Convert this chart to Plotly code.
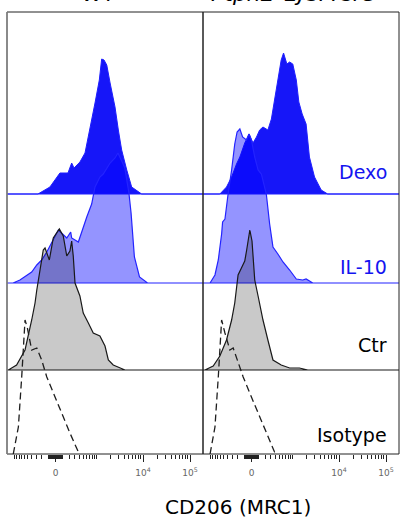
import numpy as np
import plotly.graph_objects as go

# ---------------- data (display channel 0-1000, normalized counts) ----------------
SAMPLES = ["Dexo", "IL-10", "Ctr", "Isotype"]
PANELS = ["WT", "Ptpn2-LysMCre"]

# WT panel
WT_DEXO_CH = [158, 219, 270, 311, 330, 342, 372, 398, 423, 449, 471, 483, 495, 509, 526, 551, 568, 585, 611, 636, 687]
WT_DEXO_CT = [0, 7, 21, 21, 31, 26, 32, 41, 64, 91, 114, 135, 134, 129, 111, 87, 64, 44, 24, 7, 0]

WT_IL10_CH = [31, 66, 126, 152, 177, 203, 236, 262, 305, 325, 330, 364, 407, 432, 449, 474, 491, 526, 551, 566, 590, 601, 622, 633, 650, 676, 717]
WT_IL10_CT = [0, 3, 11, 18, 23, 31, 43, 53, 45, 51, 45, 41, 66, 79, 96, 106, 109, 120, 125, 130, 120, 115, 90, 70, 26, 6, 0]

WT_CTR_CH = [7, 49, 92, 126, 143, 152, 168, 185, 194, 216, 236, 254, 267, 287, 305, 321, 330, 338, 347, 372, 389, 415, 440, 474, 500, 517, 542, 602]
WT_CTR_CT = [0, 5, 20, 50, 67, 80, 100, 120, 122, 110, 132, 137, 141, 134, 114, 119, 129, 114, 87, 74, 57, 47, 37, 34, 24, 10, 5, 0]

WT_ISO_CH = [32, 58, 75, 92, 104, 126, 152, 177, 203, 236, 279, 321, 364, 372]
WT_ISO_CT = [0, 27, 77, 134, 126, 104, 106, 94, 77, 61, 41, 21, 2, 0]

# Ptpn2-LysMCre panel
KO_DEXO_CH = [86, 120, 146, 171, 188, 213, 235, 255, 273, 289, 306, 331, 349, 365, 382, 399, 411, 428, 442, 458, 476, 489, 506, 526, 543, 569, 603, 636]
KO_DEXO_CT = [0, 7, 17, 30, 37, 51, 60, 51, 57, 64, 67, 64, 75, 94, 114, 134, 141, 130, 132, 130, 114, 92, 80, 70, 37, 17, 4, 0]

KO_IL10_CH = [36, 61, 78, 95, 100, 112, 117, 128, 146, 162, 174, 188, 202, 222, 235, 247, 264, 281, 298, 315, 323, 340, 357, 382, 408, 442, 476, 509, 526, 560]
KO_IL10_CT = [0, 8, 23, 49, 61, 64, 73, 89, 113, 139, 151, 154, 146, 143, 149, 143, 126, 113, 109, 93, 89, 59, 36, 29, 21, 13, 4, 3, 4, 0]

KO_CTR_CH = [10, 52, 86, 120, 146, 162, 171, 179, 196, 213, 222, 239, 250, 264, 281, 306, 331, 357, 399, 442, 492, 535]
KO_CTR_CT = [0, 4, 14, 30, 50, 67, 80, 95, 102, 109, 119, 140, 129, 90, 74, 50, 30, 10, 5, 2, 2, 0]

KO_ISO_CH = [36, 61, 78, 95, 112, 137, 154, 179, 205, 247, 289, 331, 365, 371]
KO_ISO_CT = [0, 27, 77, 134, 121, 104, 106, 92, 77, 57, 37, 17, 2, 0]

DATA = {
    "WT": {"Dexo": (WT_DEXO_CH, WT_DEXO_CT), "IL-10": (WT_IL10_CH, WT_IL10_CT),
           "Ctr": (WT_CTR_CH, WT_CTR_CT), "Isotype": (WT_ISO_CH, WT_ISO_CT)},
    "Ptpn2-LysMCre": {"Dexo": (KO_DEXO_CH, KO_DEXO_CT), "IL-10": (KO_IL10_CH, KO_IL10_CT),
                      "Ctr": (KO_CTR_CH, KO_CTR_CT), "Isotype": (KO_ISO_CH, KO_ISO_CT)},
}

TICK_VALUES = [0, 1e4, 1e5]
TICK_LABELS = ["0", "10<sup>4</sup>", "10<sup>5</sup>"]

# ---------------- layout / style ----------------
OFFSETS = {"Dexo": 260, "IL-10": 171, "Ctr": 84, "Isotype": 0}
STYLE = {
    "Dexo": dict(fill="rgb(22,22,248)", line="rgb(30,30,255)", width=1.0, dash="solid"),
    "IL-10": dict(fill="rgba(0,0,255,0.42)", line="rgb(35,35,255)", width=1.2, dash="solid"),
    "Ctr": dict(fill="rgba(0,0,0,0.21)", line="rgb(25,25,25)", width=1.2, dash="solid"),
    "Isotype": dict(fill=None, line="rgb(30,30,30)", width=1.3, dash="7px,4px"),
}
LABEL_COLOR = {"Dexo": "rgb(20,20,240)", "IL-10": "rgb(20,20,240)", "Ctr": "black", "Isotype": "black"}
LABEL_Y = {"Dexo": 282, "IL-10": 187, "Ctr": 109, "Isotype": 19}
FONT = "'DejaVu Sans', sans-serif"


def to_channel(v):
    return 248 + 104.2 * np.arcsinh(np.asarray(v, dtype=float) / 277.0)


minor_vals = []
for k in range(1, 5):
    for m in range(1, 10):
        minor_vals.append(m * 10 ** k)
for k in range(1, 3):
    for m in range(1, 10):
        minor_vals.append(-m * 10 ** k)
minor_vals.append(-1000)
minor_ch = [float(c) for c in to_channel(minor_vals) if 0 <= c <= 1000]
major_ch = [float(c) for c in to_channel(TICK_VALUES)]

fig = go.Figure()
axes = ["x", "x2"]
for p, panel in enumerate(PANELS):
    for s in SAMPLES:
        ch, ct = DATA[panel][s]
        off = OFFSETS[s]
        st = STYLE[s]
        if st["fill"] is not None:
            xs = [0] + list(ch) + [1000, 0]
            ys = [off] + [off + c for c in ct] + [off, off]
            fig.add_trace(go.Scatter(x=xs, y=ys, mode="lines", fill="toself",
                                     fillcolor=st["fill"],
                                     line=dict(color=st["line"], width=st["width"]),
                                     xaxis=axes[p], yaxis="y", showlegend=False,
                                     hoverinfo="skip"))
        else:
            fig.add_trace(go.Scatter(x=list(ch), y=[off + c for c in ct], mode="lines",
                                     line=dict(color=st["line"], width=st["width"], dash=st["dash"]),
                                     xaxis=axes[p], yaxis="y", showlegend=False,
                                     hoverinfo="skip"))

W, H = 400, 522
ML, MR, MT, MB = 7, 1, 12, 68
split = 196 / (W - ML - MR)

xcommon = dict(range=[0, 1000], showgrid=False, zeroline=False, showline=False,
               tickmode="array", tickvals=major_ch, ticktext=TICK_LABELS,
               ticks="outside", ticklen=7, tickwidth=1, tickcolor="#222",
               ticklabelstandoff=3,
               tickfont=dict(family=FONT, size=9, color="#666"),
               minor=dict(tickmode="array", tickvals=minor_ch, ticks="outside",
                          ticklen=4, tickwidth=1, tickcolor="#222"),
               anchor="y", fixedrange=True)
fig.update_layout(
    xaxis=dict(domain=[0, split], **xcommon),
    xaxis2=dict(domain=[split, 1], **xcommon),
    yaxis=dict(range=[0, 442], showgrid=False, zeroline=False, showline=False,
               showticklabels=False, ticks="", fixedrange=True),
    width=W, height=H,
    margin=dict(l=ML, r=MR, t=MT, b=MB, pad=0),
    plot_bgcolor="white", paper_bgcolor="white",
    font=dict(family=FONT),
)

shapes = []
for ax in ["x", "x2"]:
    shapes.append(dict(type="rect", xref=f"{ax} domain", yref="y domain",
                       x0=0, x1=1, y0=0, y1=1, line=dict(color="#222", width=1),
                       fillcolor="rgba(0,0,0,0)", layer="above"))
shapes.append(dict(type="line", xref="x domain", yref="y domain", x0=0, x1=0, y0=0, y1=1,
                   line=dict(color="#888", width=1.5), layer="above"))
fig.update_layout(shapes=shapes)

ann = []
for s in SAMPLES:
    ann.append(dict(text=s, xref="x2", yref="y", x=950, y=LABEL_Y[s], xanchor="right",
                    yanchor="middle", showarrow=False,
                    font=dict(family=FONT, size=19, color=LABEL_COLOR[s])))
ann.append(dict(text="CD206 (MRC1)", xref="paper", yref="paper", x=(238 - ML) / (W - ML - MR),
                y=-(507 - 454) / 442, xanchor="center", yanchor="middle", showarrow=False,
                font=dict(family=FONT, size=20, color="black")))
ann.append(dict(text="WT", xref="paper", yref="paper", x=(98 - ML) / (W - ML - MR),
                y=1 + (12 - 8) / 442, xanchor="center", yanchor="bottom", showarrow=False,
                font=dict(family=FONT, size=21, color="black")))
ann.append(dict(text="<i>Ptpn2</i>-LysMCre", xref="paper", yref="paper", x=(292 - ML) / (W - ML - MR),
                y=1 + (12 - 8) / 442, xanchor="center", yanchor="bottom", showarrow=False,
                font=dict(family=FONT, size=22, color="black")))
fig.update_layout(annotations=ann)

fig.write_html("out.html", config={"displayModeBar": False},
               post_script="document.body.style.margin='0';")
